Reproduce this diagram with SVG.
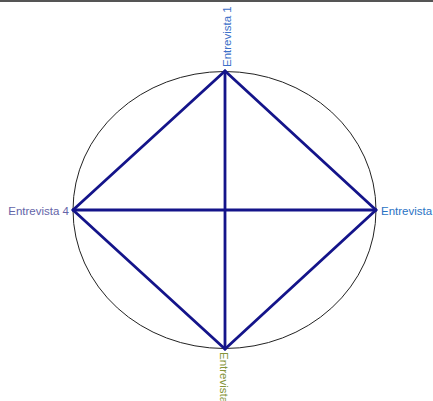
<svg xmlns="http://www.w3.org/2000/svg" width="433" height="401" viewBox="0 0 433 401">
<style>
.lbl{font-family:"Liberation Sans",Arial,sans-serif;font-size:11.5px}
.edge{stroke:#14148a;stroke-width:2.8;fill:none;stroke-linecap:round}
</style>
<defs>
<clipPath id="clipL"><rect x="8" y="0" width="425" height="401"/></clipPath>
</defs>
<rect x="0" y="0" width="433" height="401" fill="#ffffff"/>
<rect x="0" y="0" width="433" height="2" fill="#555555"/>
<ellipse id="circle" cx="224.5" cy="210" rx="151.5" ry="138.5" fill="none" stroke="#222222" stroke-width="1"/>
<g id="connectors">
<line class="edge" x1="225" y1="71" x2="376" y2="210"/>
<line class="edge" x1="376" y1="210" x2="225" y2="349"/>
<line class="edge" x1="225" y1="349" x2="73" y2="210"/>
<line class="edge" x1="73" y1="210" x2="225" y2="71"/>
<line class="edge" x1="225" y1="71" x2="225" y2="349"/>
<line class="edge" x1="73" y1="210" x2="376" y2="210"/>
</g>
<g id="node1"><text class="lbl" fill="#3b6fc8" transform="translate(231,67) rotate(-90)">Entrevista 1</text></g>
<g id="node2"><text class="lbl" fill="#2a72c4" x="381" y="215">Entrevista</text></g>
<g id="node3"><text class="lbl" fill="#85953a" transform="translate(220,352) rotate(90)">Entrevista</text></g>
<g id="node4" clip-path="url(#clipL)"><text class="lbl" fill="#6464a8" x="69" y="215" text-anchor="end">Entrevista 4</text></g>
</svg>
